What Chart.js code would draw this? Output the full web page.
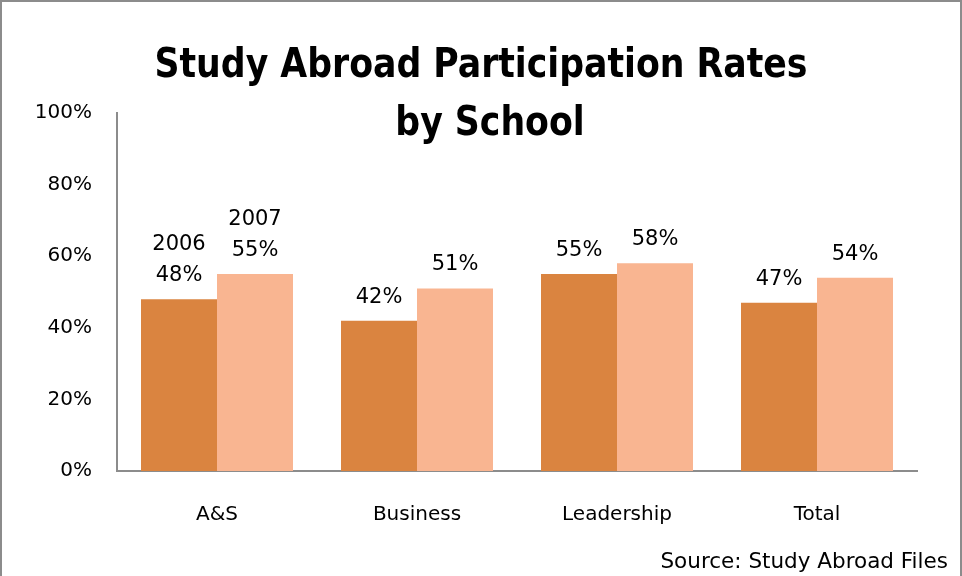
<!DOCTYPE html>
<html>
<head>
<meta charset="utf-8">
<script src="https://cdn.jsdelivr.net/npm/chart.js@4.4.1/dist/chart.umd.min.js"></script>
<style>
  html, body { margin: 0; padding: 0; background: #fff; }
  #wrap { position: relative; width: 962px; height: 576px; box-sizing: border-box; border: 2px solid #8c8c8c; border-bottom: none; }
  canvas { display: block; }
</style>
</head>
<body>
<div id="wrap"><canvas id="chart" width="958" height="574"></canvas></div>
<script>
// --- Данные ---
const schools = ['A&S', 'Business', 'Leadership', 'Total'];
const years = ['2006', '2007'];
const rates2006 = [48, 42, 55, 47];
const rates2007 = [55, 51, 58, 54];
const yTicks = [0, 20, 40, 60, 80, 100];
const titleLines = ['Study Abroad Participation Rates', 'by School'];
const sourceText = 'Source: Study Abroad Files';

const sans = '"DejaVu Sans", sans-serif';
const cond = '"DejaVu Sans Condensed", "DejaVu Sans", sans-serif';

// --- Заголовок ---
const titleDraw = {
    id: 'titleDraw',
    afterDraw(chart) {
        const ctx = chart.ctx;
        ctx.save();
        ctx.fillStyle = '#000';
        ctx.font = 'bold 40px ' + cond;
        ctx.textAlign = 'center';
        ctx.textBaseline = 'alphabetic';
        const sx = 653 / ctx.measureText(titleLines[0]).width;
        ctx.translate(chart.width / 2, 0);
        ctx.scale(sx, 1);
        ctx.fillText(titleLines[0], 0, 75);
        ctx.fillText(titleLines[1], 9 / sx, 133);
        ctx.restore();
    }
};

// --- Подписи над столбцами ---
const barLabels = {
    id: 'barLabels',
    afterDatasetsDraw(chart) {
        const ctx = chart.ctx;
        ctx.save();
        ctx.fillStyle = '#000';
        ctx.font = '21px ' + sans;
        ctx.textAlign = 'center';
        ctx.textBaseline = 'alphabetic';
        chart.data.datasets.forEach((ds, i) => {
            const meta = chart.getDatasetMeta(i);
            meta.data.forEach((bar, j) => {
                const y = bar.y - 18;
                ctx.fillText(ds.data[j] + '%', bar.x, y);
                if (j === 0) ctx.fillText(years[i], bar.x, y - 31);
            });
        });
        ctx.restore();
    }
};

// --- Источник ---
const sourceNote = {
    id: 'sourceNote',
    afterDraw(chart) {
        const ctx = chart.ctx;
        ctx.save();
        ctx.fillStyle = '#000';
        ctx.font = '21.5px ' + sans;
        ctx.textAlign = 'right';
        ctx.textBaseline = 'alphabetic';
        ctx.fillText(sourceText, chart.width - 12, chart.height - 8);
        ctx.restore();
    }
};

const ctx = document.getElementById('chart').getContext('2d');
new Chart(ctx, {
    type: 'bar',
    data: {
        labels: schools,
        datasets: [
            { label: years[0], data: rates2006, backgroundColor: '#DA8440', categoryPercentage: 0.76, barPercentage: 1.0 },
            { label: years[1], data: rates2007, backgroundColor: '#F9B591', categoryPercentage: 0.76, barPercentage: 1.0 }
        ]
    },
    options: {
        responsive: false,
        animation: false,
        layout: { padding: { left: 0, right: 43, top: 111, bottom: 0 } },
        plugins: {
            legend: { display: false },
            tooltip: { enabled: false },
            title: { display: false }
        },
        scales: {
            x: {
                grid: { display: false, drawTicks: false },
                border: { display: true, color: '#8c8c8c', width: 2 },
                ticks: { color: '#000', padding: 32, font: { family: sans, size: 20 } },
                afterFit(scale) { scale.height = 105; }
            },
            y: {
                min: 0,
                max: 100,
                afterBuildTicks(scale) { scale.ticks = yTicks.map(v => ({ value: v })); },
                grid: { display: false, drawTicks: false },
                border: { display: true, color: '#8c8c8c', width: 2 },
                ticks: { color: '#000', padding: 25, font: { family: sans, size: 20 }, callback: v => v + '%' },
                afterFit(scale) { scale.width = 115; }
            }
        }
    },
    plugins: [barLabels, titleDraw, sourceNote]
});
</script>
</body>
</html>
